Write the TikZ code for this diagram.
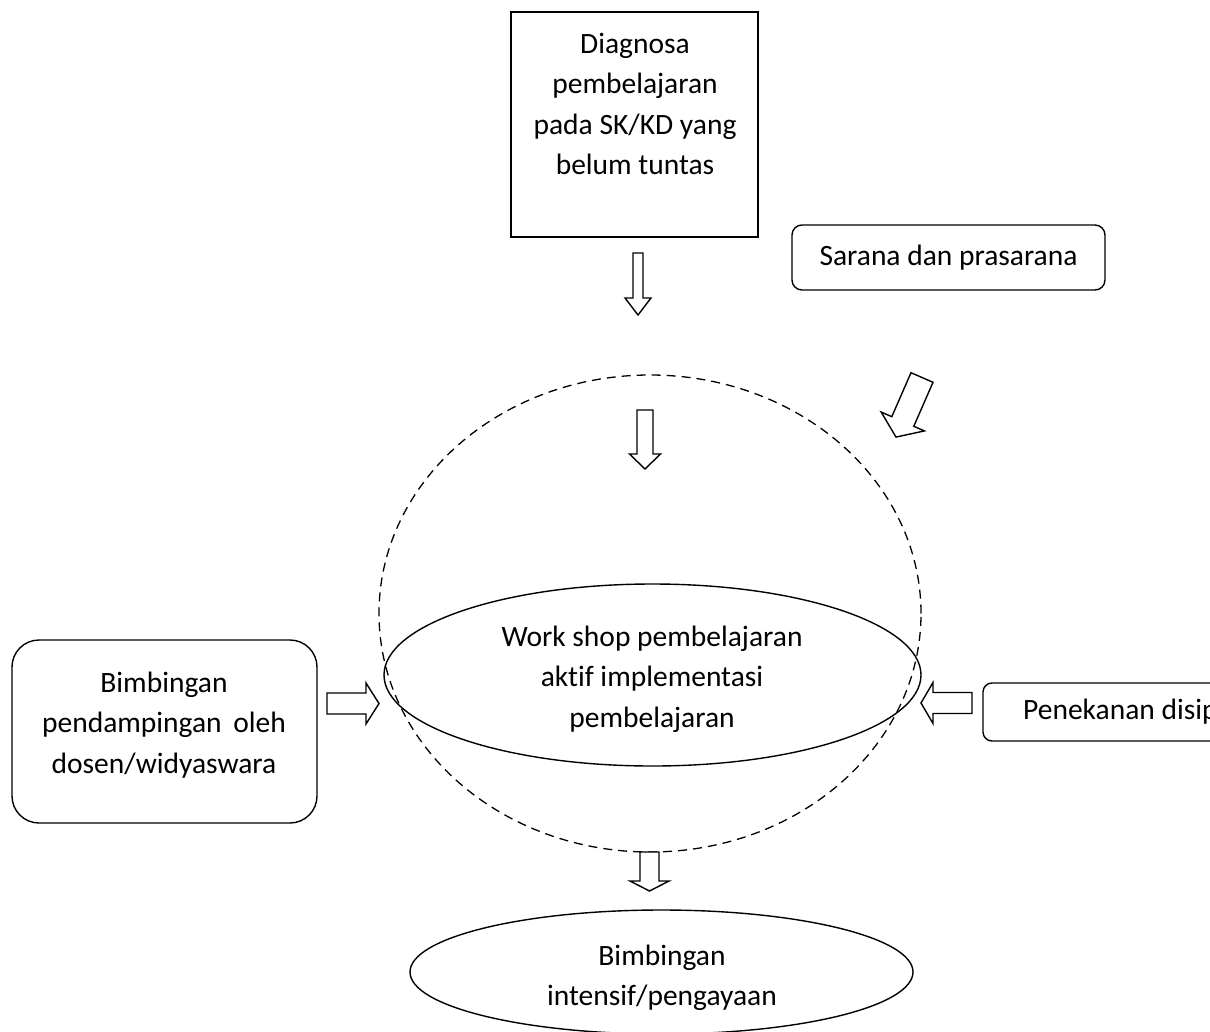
\documentclass[tikz,border=0pt]{standalone}
\usepackage{fontspec}
\setmainfont{Carlito}[Ligatures=NoCommon]
\usetikzlibrary{shapes.geometric}
\tikzset{
  txt/.style={font=\fontsize{29.5}{40.5}\selectfont, align=center, inner sep=0pt},
  blk/.style={draw, line width=1.4pt, line join=miter, fill=white},
  frame/.style={draw, line width=1.4pt},
  dashring/.style={line width=1.3pt, dash pattern=on 9pt off 6pt},
}
% x, y, angle, length, shaft half width, head half width, head length
\newcommand{\blockarrow}[7]{%
  \begin{scope}[shift={(#1,#2)},rotate=#3]
    \draw[blk] (0,-#5) -- ({#4-#7},-#5) -- ({#4-#7},-#6) -- (#4,0) --
      ({#4-#7},#6) -- ({#4-#7},#5) -- (0,#5) -- cycle;
  \end{scope}}
\begin{document}
\begin{tikzpicture}[x=1pt,y=-1pt]
\useasboundingbox (0,0) rectangle (1210,1031);
\clip (0,0) rectangle (1210,1031);

% top box
\node[frame, minimum width=247pt, minimum height=225pt, inner sep=0pt] (diag) at (634.5,124.5) {};
\node[txt] (diagt) at (635,104) {Diagnosa\\pembelajaran\\pada SK/KD yang\\belum tuntas};

% sarana box
\node[frame, rounded corners=10pt, minimum width=313pt, minimum height=65pt, txt] (sar) at (948.5,257.5) {Sarana dan prasarana};

% dashed ring
\draw[dashring] (650,613.5) ellipse [x radius=271pt, y radius=238.5pt];

% workshop ellipse
\node[frame, ellipse, minimum width=537pt, minimum height=182pt, inner sep=0pt] (ws) at (652.5,675) {};
\node[txt] (wst) at (652,679) {Work shop pembelajaran\\aktif implementasi\\pembelajaran};

% left box
\node[frame, rounded corners=27pt, minimum width=305pt, minimum height=183pt, inner sep=0pt] (lb) at (164.5,731.5) {};
\node[txt] (lbt) at (164,725) {Bimbingan\\pendampingan\hspace{5pt} oleh\\dosen/widyaswara};

% right (cut) box
\draw[frame, rounded corners=9pt] (983,683) rectangle (1250,741);
\node[txt, anchor=west] (pen) at (1023,712) {Penekanan disip};

% bottom ellipse
\node[frame, ellipse, minimum width=503pt, minimum height=124pt, inner sep=0pt] (be) at (661.5,972) {};
\begin{scope}
\clip (0,0) rectangle (1210,1010);
\node[txt] (bet) at (662,978) {Bimbingan\\intensif/pengayaan};
\end{scope}

% block arrows
\blockarrow{638}{253}{-90}{62}{5}{13}{17}
\blockarrow{645}{410}{-90}{59}{8}{15.5}{15}
\blockarrow{922}{377.5}{-113.6}{65}{12}{23.6}{17}
\blockarrow{327}{703.5}{0}{52}{10.5}{20.5}{13}
\blockarrow{972}{703}{180}{51}{10.5}{20.5}{12}
\blockarrow{649.5}{852}{-90}{39}{9.5}{19.5}{10}
\end{tikzpicture}
\end{document}
